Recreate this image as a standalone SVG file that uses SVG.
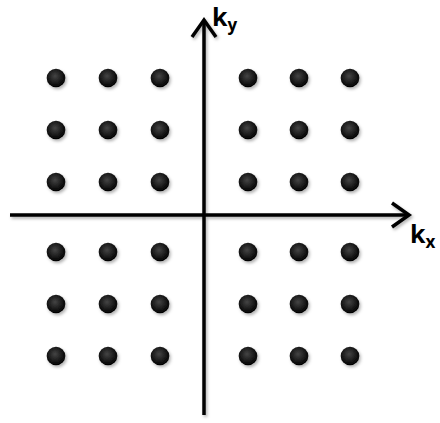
<svg xmlns="http://www.w3.org/2000/svg" width="440" height="423" viewBox="0 0 440 423">
<style>
.lbl{font-family:"Open Sans","Liberation Sans",sans-serif;font-weight:bold;fill:#000}
.ax{stroke:#000;stroke-width:3.5;fill:none}
.dot{fill:url(#g)}
</style>
<defs>
<radialGradient id="g" cx="0.45" cy="0.4" r="0.6">
<stop offset="0" stop-color="#444"/>
<stop offset="1" stop-color="#000"/>
</radialGradient>
<filter id="sh" x="-50%" y="-50%" width="200%" height="200%">
<feDropShadow dx="1.5" dy="2" stdDeviation="1.5" flood-color="#000" flood-opacity="0.3"/>
</filter>
</defs>
<g id="connectors" filter="url(#sh)">
<g id="axis-y">
<line class="ax" x1="204" y1="415" x2="204" y2="20"/>
<polyline class="ax" points="192,37 204,20 216,37"/>
</g>
<g id="axis-x">
<line class="ax" x1="10" y1="215" x2="409" y2="215"/>
<polyline class="ax" points="392,203 409,215 392,227"/>
</g>
</g>
<g id="dots" filter="url(#sh)">
<g id="q1">
<circle class="dot" cx="56" cy="78" r="9.3"/><circle class="dot" cx="108" cy="78" r="9.3"/><circle class="dot" cx="160" cy="78" r="9.3"/>
<circle class="dot" cx="56" cy="130" r="9.3"/><circle class="dot" cx="108" cy="130" r="9.3"/><circle class="dot" cx="160" cy="130" r="9.3"/>
<circle class="dot" cx="56" cy="182" r="9.3"/><circle class="dot" cx="108" cy="182" r="9.3"/><circle class="dot" cx="160" cy="182" r="9.3"/>
</g>
<g id="q2">
<circle class="dot" cx="248" cy="78" r="9.3"/><circle class="dot" cx="299" cy="78" r="9.3"/><circle class="dot" cx="350" cy="78" r="9.3"/>
<circle class="dot" cx="248" cy="130" r="9.3"/><circle class="dot" cx="299" cy="130" r="9.3"/><circle class="dot" cx="350" cy="130" r="9.3"/>
<circle class="dot" cx="248" cy="182" r="9.3"/><circle class="dot" cx="299" cy="182" r="9.3"/><circle class="dot" cx="350" cy="182" r="9.3"/>
</g>
<g id="q3">
<circle class="dot" cx="56" cy="252" r="9.3"/><circle class="dot" cx="108" cy="252" r="9.3"/><circle class="dot" cx="160" cy="252" r="9.3"/>
<circle class="dot" cx="56" cy="304" r="9.3"/><circle class="dot" cx="108" cy="304" r="9.3"/><circle class="dot" cx="160" cy="304" r="9.3"/>
<circle class="dot" cx="56" cy="356" r="9.3"/><circle class="dot" cx="108" cy="356" r="9.3"/><circle class="dot" cx="160" cy="356" r="9.3"/>
</g>
<g id="q4">
<circle class="dot" cx="248" cy="252" r="9.3"/><circle class="dot" cx="299" cy="252" r="9.3"/><circle class="dot" cx="350" cy="252" r="9.3"/>
<circle class="dot" cx="248" cy="304" r="9.3"/><circle class="dot" cx="299" cy="304" r="9.3"/><circle class="dot" cx="350" cy="304" r="9.3"/>
<circle class="dot" cx="248" cy="356" r="9.3"/><circle class="dot" cx="299" cy="356" r="9.3"/><circle class="dot" cx="350" cy="356" r="9.3"/>
</g>
</g>
<g id="label-ky">
<text class="lbl" x="212" y="26" font-size="25">k<tspan font-size="17" dy="5">y</tspan></text>
</g>
<g id="label-kx">
<text class="lbl" x="410" y="243" font-size="25">k<tspan font-size="17" dy="5">x</tspan></text>
</g>
</svg>
